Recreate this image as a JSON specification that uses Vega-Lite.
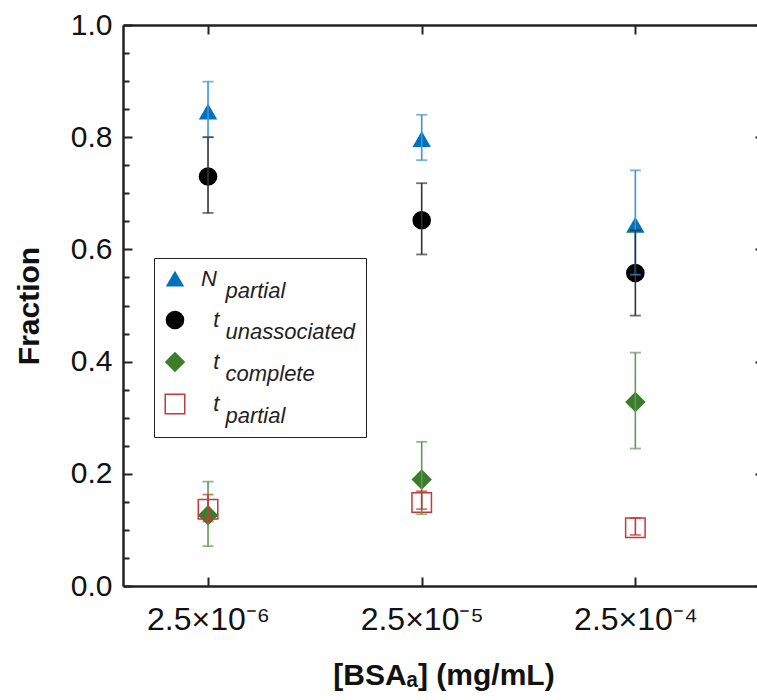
{
  "$schema": "https://vega.github.io/schema/vega-lite/v6.json",
  "width": 641,
  "height": 561,
  "autosize": "none",
  "padding": {"left": 123, "top": 25, "right": 0, "bottom": 114},
  "background": "white",
  "config": {
    "view": {"stroke": null},
    "font": "Liberation Sans",
    "style": {"guide-label": {"lineHeight": 12}}
  },
  "data": {
    "values": [
      {"conc": 2.5e-6, "series": "Np", "v": 0.845, "lo": 0.800, "hi": 0.899},
      {"conc": 2.5e-6, "series": "tu", "v": 0.730, "lo": 0.665, "hi": 0.800},
      {"conc": 2.5e-6, "series": "tc", "v": 0.126, "lo": 0.071, "hi": 0.186},
      {"conc": 2.5e-6, "series": "tp", "v": 0.137, "lo": 0.115, "hi": 0.163},
      {"conc": 2.5e-5, "series": "Np", "v": 0.796, "lo": 0.759, "hi": 0.840},
      {"conc": 2.5e-5, "series": "tu", "v": 0.652, "lo": 0.591, "hi": 0.718},
      {"conc": 2.5e-5, "series": "tc", "v": 0.190, "lo": 0.128, "hi": 0.257},
      {"conc": 2.5e-5, "series": "tp", "v": 0.149, "lo": 0.137, "hi": 0.169},
      {"conc": 2.5e-4, "series": "Np", "v": 0.643, "lo": 0.555, "hi": 0.741},
      {"conc": 2.5e-4, "series": "tu", "v": 0.558, "lo": 0.482, "hi": 0.634},
      {"conc": 2.5e-4, "series": "tc", "v": 0.328, "lo": 0.245, "hi": 0.416},
      {"conc": 2.5e-4, "series": "tp", "v": 0.104, "lo": 0.091, "hi": 0.121}
    ]
  },
  "resolve": {"axis": {"x": "independent", "y": "independent"}},
  "layer": [
    {
      "mark": {"type": "point", "filled": true, "strokeWidth": 1.5, "opacity": 1},
      "encoding": {
        "x": {
          "field": "conc", "type": "quantitative",
          "scale": {"type": "log", "domain": [1e-6, 1e-3]},
          "axis": {
            "orient": "bottom",
            "values": [2.5e-6, 2.5e-5, 2.5e-4],
            "labelExpr": "datum.value < 1e-5 ? '2.5×10⁻⁶' : datum.value < 1e-4 ? '2.5×10⁻⁵' : '2.5×10⁻⁴'",
            "grid": false,
            "tickSize": -9, "tickWidth": 2, "tickColor": "#222",
            "domainWidth": 2.5, "domainColor": "#222",
            "labelFontSize": 32, "labelColor": "#111", "labelPadding": 27,
            "labelFlush": false, "labelOverlap": false,
            "title": "[BSAₐ] (mg/mL)",
            "titleFontSize": 30, "titleFontWeight": "bold", "titleColor": "#111",
            "titlePadding": 25
          }
        },
        "y": {
          "field": "v", "type": "quantitative",
          "scale": {"domain": [0, 1], "nice": false, "zero": false},
          "axis": {
            "orient": "left",
            "values": [0, 0.05, 0.1, 0.15, 0.2, 0.25, 0.3, 0.35, 0.4, 0.45, 0.5, 0.55, 0.6, 0.65, 0.7, 0.75, 0.8, 0.85, 0.9, 0.95, 1.0],
            "labelExpr": "abs(datum.value*5 - round(datum.value*5)) < 0.001 ? format(datum.value, '.1f') : ''",
            "grid": false,
            "tickSize": {"condition": {"test": "abs(datum.value*5 - round(datum.value*5)) < 0.001", "value": -9}, "value": -6},
            "tickWidth": 2, "tickColor": "#222",
            "domainWidth": 2.5, "domainColor": "#222",
            "labelFontSize": 30, "labelColor": "#111", "labelPadding": 20,
            "labelFlush": false, "labelOverlap": false,
            "title": "Fraction",
            "titleFontSize": 30, "titleFontWeight": "bold", "titleColor": "#111",
            "titlePadding": 26
          }
        },
        "shape": {
          "field": "series", "type": "nominal",
          "scale": {"domain": ["Np", "tu", "tc", "tp"], "range": ["triangle-up", "circle", "diamond", "square"]},
          "legend": {
            "orient": "none", "legendX": 31, "legendY": 233,
            "title": null,
            "strokeColor": "#222", "fillColor": "white", "padding": 10,
            "labelFont": "Liberation Sans", "labelFontSize": 22, "labelFontStyle": "italic", "labelColor": "#222",
            "labelOffset": 15, "rowPadding": 6, "symbolStrokeWidth": 1.5, "labelLimit": 400,
            "labelExpr": "datum.value == 'Np' ? ['N', '\u200b\u00a0\u00a0\u00a0\u00a0partial'] : datum.value == 'tu' ? ['\u200b\u00a0\u00a0t', '\u200b\u00a0\u00a0\u00a0\u00a0unassociated'] : datum.value == 'tc' ? ['\u200b\u00a0\u00a0t', '\u200b\u00a0\u00a0\u00a0\u00a0complete'] : ['\u200b\u00a0\u00a0t', '\u200b\u00a0\u00a0\u00a0\u00a0partial']"
          }
        },
        "fill": {
          "field": "series", "type": "nominal",
          "scale": {"domain": ["Np", "tu", "tc", "tp"], "range": ["#0072BD", "#000000", "#3B7D2C", "transparent"]}
        },
        "stroke": {
          "field": "series", "type": "nominal",
          "scale": {"domain": ["Np", "tu", "tc", "tp"], "range": ["#0072BD", "#000000", "#3B7D2C", "#C0393B"]}
        },
        "size": {
          "field": "series", "type": "nominal",
          "scale": {"domain": ["Np", "tu", "tc", "tp"], "range": [250, 380, 380, 280]}
        }
      }
    },
    {
      "mark": {"type": "rule", "strokeWidth": 1.6},
      "encoding": {
        "x": {
          "field": "conc", "type": "quantitative",
          "scale": {"type": "log", "domain": [1e-6, 1e-3]},
          "axis": {
            "orient": "top",
            "values": [2.5e-6, 2.5e-5, 2.5e-4],
            "labels": false, "grid": false, "title": null,
            "tickSize": -9, "tickWidth": 2, "tickColor": "#222",
            "domainWidth": 2.5, "domainColor": "#222"
          }
        },
        "y": {
          "field": "lo", "type": "quantitative",
          "scale": {"domain": [0, 1], "nice": false, "zero": false},
          "axis": {
            "orient": "right",
            "values": [0, 0.05, 0.1, 0.15, 0.2, 0.25, 0.3, 0.35, 0.4, 0.45, 0.5, 0.55, 0.6, 0.65, 0.7, 0.75, 0.8, 0.85, 0.9, 0.95, 1.0],
            "labels": false, "grid": false, "title": null,
            "tickSize": {"condition": {"test": "abs(datum.value*5 - round(datum.value*5)) < 0.001", "value": -9}, "value": -6},
            "tickWidth": 2, "tickColor": "#222",
            "domainWidth": 2.5, "domainColor": "#222"
          }
        },
        "y2": {"field": "hi"},
        "color": {
          "field": "series", "type": "nominal",
          "scale": {"domain": ["Np", "tu", "tc", "tp"], "range": ["#3D93D8", "#333333", "#5F9A55", "#C0393B"]},
          "legend": null
        }
      }
    },
    {
      "mark": {"type": "tick", "orient": "horizontal", "size": 11, "thickness": 1.8},
      "encoding": {
        "x": {"field": "conc", "type": "quantitative", "axis": null},
        "y": {"field": "lo", "type": "quantitative", "axis": null},
        "color": {"field": "series", "type": "nominal", "legend": null}
      }
    },
    {
      "mark": {"type": "tick", "orient": "horizontal", "size": 11, "thickness": 1.8},
      "encoding": {
        "x": {"field": "conc", "type": "quantitative", "axis": null},
        "y": {"field": "hi", "type": "quantitative", "axis": null},
        "color": {"field": "series", "type": "nominal", "legend": null}
      }
    }
  ]
}
